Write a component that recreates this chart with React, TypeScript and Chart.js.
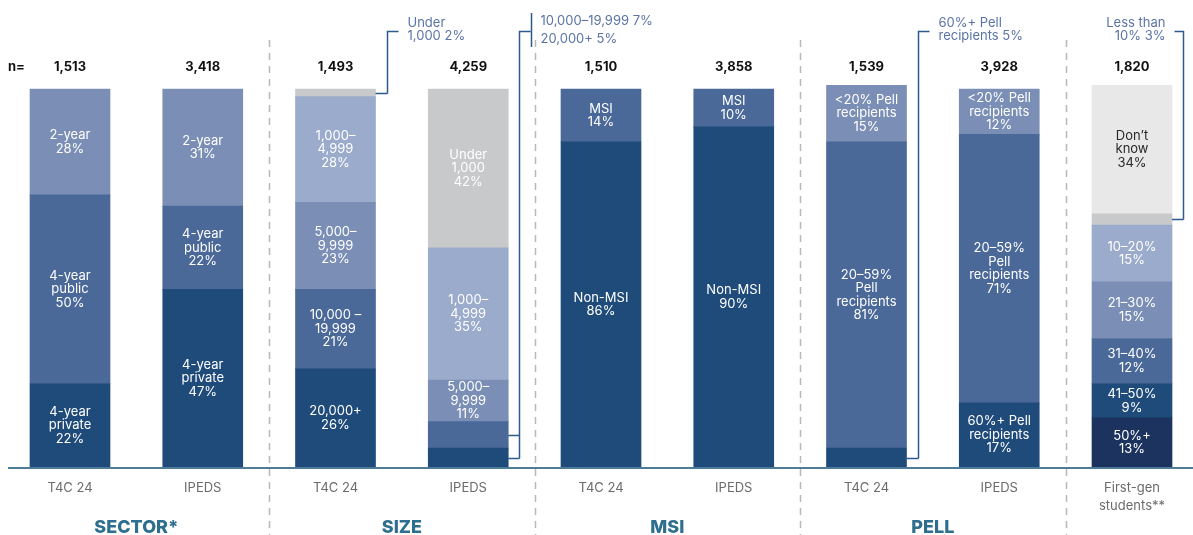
import React, { useEffect, useRef } from "react";
import { Chart, registerables } from "chart.js";

Chart.register(...registerables);

const FONT = "Inter, 'Noto Sans', 'DejaVu Sans', sans-serif";

// ---- Data ----
const categories: (string | string[])[] = [
  "T4C 24", "IPEDS", "T4C 24", "IPEDS", "T4C 24", "IPEDS", "T4C 24", "IPEDS", ["First-gen", "students**"],
];
const sampleSizes = ["1,513", "3,418", "1,493", "4,259", "1,510", "3,858", "1,539", "3,928", "1,820"];
const groupTitles = ["SECTOR*", "SIZE", "MSI", "PELL"];
const groupBars = [[0, 1], [2, 3], [4, 5], [6, 7]];

// segments listed bottom -> top
const sectorT4C = [22, 50, 28];
const sectorIPEDS = [47, 22, 31];
const sectorNames = [["4-year", "private"], ["4-year", "public"], ["2-year"]];

const sizeT4C = [26, 21, 23, 28, 2];
const sizeIPEDS = [5, 7, 11, 35, 42];
const sizeNames = [["20,000+"], ["10,000 –", "19,999"], ["5,000–", "9,999"], ["1,000–", "4,999"], ["Under", "1,000"]];

const msiT4C = [86, 14];
const msiIPEDS = [90, 10];
const msiNames = [["Non-MSI"], ["MSI"]];

const pellT4C = [5, 81, 15];
const pellIPEDS = [17, 71, 12];
const pellNames = [["60%+ Pell", "recipients"], ["20–59%", "Pell", "recipients"], ["<20% Pell", "recipients"]];

const firstGen = [13, 9, 12, 15, 15, 3, 34];
const firstGenNames = [["50%+"], ["41–50%"], ["31–40%"], ["21–30%"], ["10–20%"], ["Less than 10%"], ["Don’t", "know"]];

// callouts for small segments (bar index, segment indices, text)
const calloutBars = [2, 3, 6, 8];
const calloutSegments = [[4], [1, 0], [0], [5]];
const calloutTexts = [
  ["Under", "1,000 2%"],
  ["10,000–19,999 7%", "20,000+ 5%"],
  ["60%+ Pell", "recipients 5%"],
  ["Less than", "10% 3%"],
];
const calloutStyles = ["right", "double", "right", "left"];

// ---- Colours ----
const NAVY = "#1b335e";
const DARK = "#1f4b7b";
const MID = "#4a6898";
const LIGHT1 = "#7b8fb6";
const LIGHT2 = "#9babcb";
const GRAY = "#c8c9cb";
const PALE = "#e8e8e9";

const sectorPalette = [DARK, MID, LIGHT1];
const sizePalette = [DARK, MID, LIGHT1, LIGHT2, GRAY];
const msiPalette = [DARK, MID];
const pellPalette = [DARK, MID, LIGHT1];
const firstGenPalette = [NAVY, DARK, MID, LIGHT1, LIGHT2, GRAY, PALE];

type Bar = { values: number[]; names: string[][]; colors: string[] };
const bars: Bar[] = [
  { values: sectorT4C, names: sectorNames, colors: sectorPalette },
  { values: sectorIPEDS, names: sectorNames, colors: sectorPalette },
  { values: sizeT4C, names: sizeNames, colors: sizePalette },
  { values: sizeIPEDS, names: sizeNames, colors: sizePalette },
  { values: msiT4C, names: msiNames, colors: msiPalette },
  { values: msiIPEDS, names: msiNames, colors: msiPalette },
  { values: pellT4C, names: pellNames, colors: pellPalette },
  { values: pellIPEDS, names: pellNames, colors: pellPalette },
  { values: firstGen, names: firstGenNames, colors: firstGenPalette },
];

const maxSegs = Math.max(...bars.map((b) => b.values.length));

function isCallout(bar: number, seg: number) {
  for (let c = 0; c < calloutBars.length; c++) {
    if (calloutBars[c] === bar && calloutSegments[c].includes(seg)) return true;
  }
  return false;
}

function segEl(chart: any, seg: number, bar: number) {
  const el = chart.getDatasetMeta(seg).data[bar];
  return el.getProps(["x", "y", "base", "width"], true);
}

const overlayPlugin = {
  id: "overlay",
  beforeDatasetsDraw(chart: any) {
    const ctx = chart.ctx;
    const xs = chart.scales.x;
    ctx.save();
    // dashed separators
    ctx.strokeStyle = "#b8b8b8";
    ctx.lineWidth = 1.5;
    ctx.setLineDash([7, 6]);
    for (let g = 0; g < groupBars.length; g++) {
      const last = groupBars[g][groupBars[g].length - 1];
      const x = Math.round((xs.getPixelForValue(last) + xs.getPixelForValue(last + 1)) / 2) + 0.5;
      ctx.beginPath();
      ctx.moveTo(x, 40);
      ctx.lineTo(x, chart.height);
      ctx.stroke();
    }
    ctx.restore();
  },
  afterDatasetsDraw(chart: any) {
    const ctx = chart.ctx;
    const xs = chart.scales.x;
    const area = chart.chartArea;
    ctx.save();

    // segment labels
    ctx.textAlign = "center";
    ctx.textBaseline = "middle";
    ctx.font = `400 13px ${FONT}`;
    bars.forEach((b, bi) => {
      b.values.forEach((v, si) => {
        if (isCallout(bi, si)) return;
        const p = segEl(chart, si, bi);
        const lines = [...b.names[si], `${v}%`];
        const cy = (p.y + p.base) / 2;
        const lh = 13.5;
        ctx.fillStyle = b.colors[si] === PALE ? "#2a2a2a" : "#ffffff";
        lines.forEach((t, li) => {
          ctx.fillText(t, p.x, cy + (li - (lines.length - 1) / 2) * lh);
        });
      });
    });

    // baseline
    ctx.strokeStyle = "#4e7c98";
    ctx.lineWidth = 2;
    ctx.beginPath();
    ctx.moveTo(8, area.bottom + 1);
    ctx.lineTo(chart.width, area.bottom + 1);
    ctx.stroke();

    // sample sizes
    ctx.fillStyle = "#111111";
    ctx.font = `700 13px ${FONT}`;
    ctx.textAlign = "left";
    ctx.fillText("n=", 8, 67);
    ctx.textAlign = "center";
    sampleSizes.forEach((s, i) => ctx.fillText(s, xs.getPixelForValue(i), 67));

    // group titles
    ctx.fillStyle = "#2e6e8e";
    ctx.font = `800 18px ${FONT}`;
    groupTitles.forEach((t, g) => {
      const idx = groupBars[g];
      const x = (xs.getPixelForValue(idx[0]) + xs.getPixelForValue(idx[idx.length - 1])) / 2;
      ctx.fillText(t, x, 528);
    });

    // callouts
    const lineColor = "#2d5a8c";
    const textColor = "#5a74a6";
    const topY = 31.5;
    ctx.font = `400 13px ${FONT}`;
    calloutBars.forEach((bi, c) => {
      const segs = calloutSegments[c];
      const pts = segs.map((si) => segEl(chart, si, bi));
      const right = pts[0].x + pts[0].width / 2;
      const vx = Math.round(right + 11) + 0.5;
      const ys = pts.map((p) => Math.round((p.y + p.base) / 2) + 0.5);
      const style = calloutStyles[c];
      ctx.strokeStyle = lineColor;
      ctx.lineWidth = 1.5;
      ctx.beginPath();
      ys.forEach((y) => {
        ctx.moveTo(right, y);
        ctx.lineTo(vx, y);
      });
      ctx.moveTo(vx, Math.max(...ys));
      ctx.lineTo(vx, topY);
      if (style === "left") ctx.lineTo(vx - 9, topY);
      else ctx.lineTo(vx + 11, topY);
      if (style === "double") {
        ctx.moveTo(vx + 12, 13);
        ctx.lineTo(vx + 12, 47);
      }
      ctx.stroke();

      ctx.fillStyle = textColor;
      const lines = calloutTexts[c];
      if (style === "left") {
        ctx.textAlign = "right";
        lines.forEach((t, li) => ctx.fillText(t, vx - 18, 23 + li * 13.5));
      } else if (style === "double") {
        ctx.textAlign = "left";
        lines.forEach((t, li) => ctx.fillText(t, vx + 21, 21 + li * 18));
      } else {
        ctx.textAlign = "left";
        lines.forEach((t, li) => ctx.fillText(t, vx + 20, 23 + li * 13.5));
      }
    });

    ctx.restore();
  },
};

export default function App() {
  const ref = useRef<HTMLCanvasElement | null>(null);

  useEffect(() => {
    if (!ref.current) return;
    const datasets = Array.from({ length: maxSegs }, (_, k) => ({
      label: `seg${k}`,
      data: bars.map((b) => (k < b.values.length ? b.values[k] : null)),
      backgroundColor: bars.map((b) => b.colors[k] ?? "rgba(0,0,0,0)"),
      borderWidth: 0,
      barThickness: 80,
      stack: "all",
      clip: false,
    }));
    const chart = new Chart(ref.current, {
      type: "bar",
      data: { labels: categories as any, datasets: datasets as any },
      options: {
        animation: false,
        responsive: true,
        maintainAspectRatio: false,
        layout: { padding: { top: 89, left: 70, right: 61, bottom: 0 } },
        plugins: { legend: { display: false }, tooltip: { enabled: false }, title: { display: false } },
        scales: {
          x: {
            type: "category",
            stacked: true,
            offset: false,
            grid: { display: false, drawTicks: false },
            border: { display: false },
            ticks: {
              color: "#6b6b6b",
              font: { family: FONT, size: 13, lineHeight: 1.4 },
              padding: 12,
              maxRotation: 0,
              autoSkip: false,
            },
            afterFit: (scale: any) => {
              scale.height = 68;
            },
          },
          y: { display: false, stacked: true, min: 0, max: 100 },
        },
      },
      plugins: [overlayPlugin],
    });
    return () => chart.destroy();
  }, []);

  return (
    <div style={{ position: "fixed", left: 0, top: 0, width: 1193, height: 535, background: "#ffffff" }}>
      <canvas ref={ref} />
    </div>
  );
}
